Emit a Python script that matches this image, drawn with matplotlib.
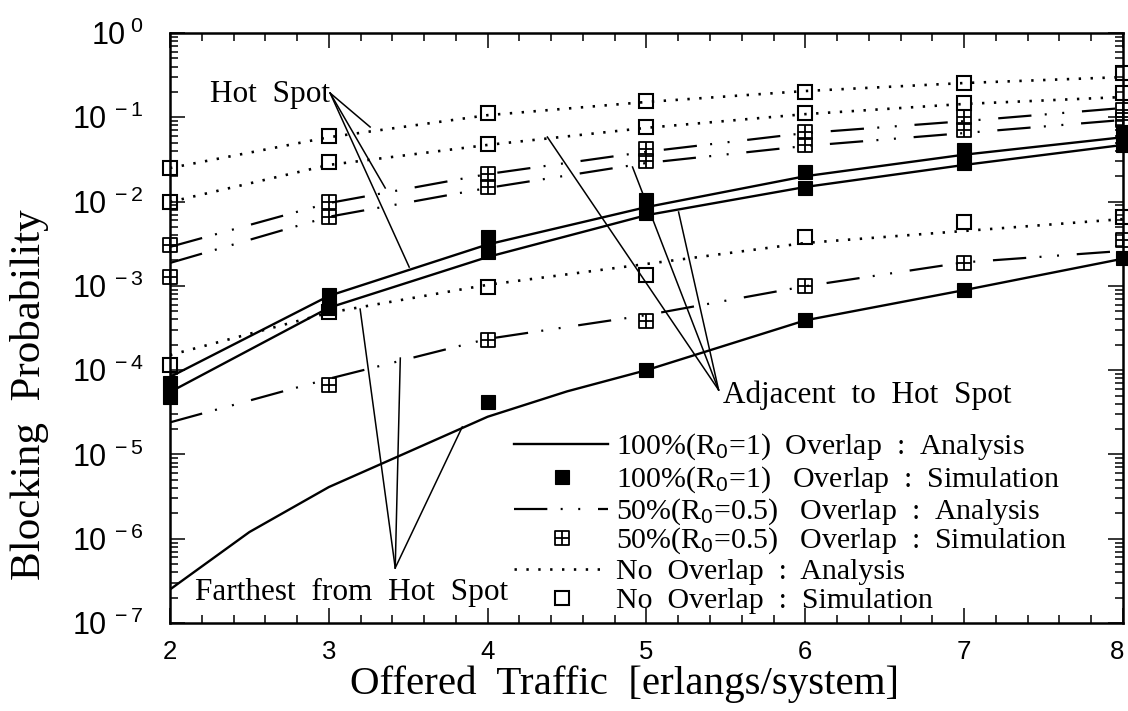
import numpy as np
import matplotlib
matplotlib.use("Agg")
import matplotlib.pyplot as plt
import matplotlib.transforms as mtransforms
from matplotlib.path import Path
from matplotlib.ticker import FixedLocator, NullFormatter, FuncFormatter

# ---------------------------------------------------------------- data
traffic = [2, 3, 4, 5, 6, 7, 8]
decades = [-7, -6, -5, -4, -3, -2, -1, 0]

# hot spot cell
hot_full_ana = [8.3e-5, 7.6e-4, 3.1e-3, 8.6e-3, 2.0e-2, 3.6e-2, 5.8e-2]
hot_full_sim = [7.0e-5, 7.8e-4, 3.8e-3, 1.04e-2, 2.25e-2, 4.1e-2, 6.7e-2]
hot_half_ana = [2.9e-3, 9.6e-3, 2.12e-2, 3.9e-2, 6.5e-2, 9.0e-2, 1.29e-1]
hot_half_sim = [3.06e-3, 9.9e-3, 2.12e-2, 4.2e-2, 6.7e-2, 1.01e-1, 1.22e-1]
hot_none_ana = [2.5e-2, 5.8e-2, 1.06e-1, 1.52e-1, 2.05e-1, 2.55e-1, 3.0e-1]
hot_none_sim = [2.5e-2, 6.0e-2, 1.12e-1, 1.56e-1, 2.0e-1, 2.55e-1, 3.36e-1]

# cells adjacent to the hot spot
adj_full_ana = [5.5e-5, 5.5e-4, 2.2e-3, 6.9e-3, 1.49e-2, 2.72e-2, 4.7e-2]
adj_full_sim = [4.8e-5, 5.5e-4, 2.5e-3, 7.3e-3, 1.45e-2, 2.87e-2, 4.7e-2]
adj_half_ana = [1.87e-3, 6.6e-3, 1.45e-2, 2.87e-2, 4.57e-2, 6.5e-2, 9.3e-2]
adj_half_sim = [1.28e-3, 6.6e-3, 1.49e-2, 3.03e-2, 4.7e-2, 7.1e-2, 9.3e-2]
adj_none_ana = [9.9e-3, 2.72e-2, 4.7e-2, 7.5e-2, 1.09e-1, 1.44e-1, 1.74e-1]
adj_none_sim = [9.9e-3, 2.95e-2, 4.8e-2, 7.7e-2, 1.12e-1, 1.48e-1, 1.94e-1]

# cells farthest from the hot spot
far_traffic_fine = [2, 2.5, 3, 3.5, 4, 4.5, 5, 6, 7, 8]
far_full_ana = [2.5e-7, 1.2e-6, 4.1e-6, 1.07e-5, 2.8e-5, 5.6e-5, 1.0e-4, 3.9e-4, 8.9e-4, 2.1e-3]
far_full_sim_traffic = [4, 5, 6, 7, 8]
far_full_sim = [4.2e-5, 1.0e-4, 3.94e-4, 8.9e-4, 2.14e-3]
far_half_ana = [2.4e-5, 7.9e-5, 2.35e-4, 4.5e-4, 9.9e-4, 1.9e-3, 2.6e-3]
far_half_sim_traffic = [3, 4, 5, 6, 7, 8]
far_half_sim = [6.7e-5, 2.28e-4, 3.84e-4, 9.9e-4, 1.87e-3, 3.5e-3]
far_none_ana = [1.51e-4, 4.8e-4, 1.03e-3, 1.82e-3, 3.23e-3, 4.48e-3, 6.2e-3]
far_none_sim = [1.15e-4, 4.9e-4, 9.7e-4, 1.35e-3, 3.8e-3, 5.7e-3, 6.6e-3]

legend_labels = [
    r"100%(R$_0$=1)  Overlap  :  Analysis",
    r"100%(R$_0$=1)   Overlap  :  Simulation",
    r"50%(R$_0$=0.5)   Overlap  :  Analysis",
    r"50%(R$_0$=0.5)   Overlap  :  Simulation",
    r"No  Overlap  :  Analysis",
    r"No  Overlap  :  Simulation",
]

# ---------------------------------------------------------------- style
plt.rcParams["mathtext.fontset"] = "custom"
plt.rcParams["mathtext.rm"] = "Liberation Sans"
plt.rcParams["mathtext.it"] = "Liberation Sans:italic"
plt.rcParams["mathtext.bf"] = "Liberation Sans:bold"
SERIF = ["Liberation Serif", "DejaVu Serif"]
SANS = ["Liberation Sans", "DejaVu Sans"]

W, H = 1128, 711
fig = plt.figure(figsize=(W / 100, H / 100), dpi=100)
ax = fig.add_axes([170 / W, 1 - 623 / H, (1123 - 170) / W, (623 - 33) / H])

LW = 1.7
solid = dict(color="black", lw=LW, linestyle="-")
dashdot = dict(color="black", lw=1.6, linestyle=(0, (15, 6, 0.9, 7, 0.9, 8)))
dotted = dict(color="black", lw=1.9, linestyle=(0, (0.9, 3.6)))

# square with a cross inside
box_cross = Path(
    [(-1, -1), (1, -1), (1, 1), (-1, 1), (-1, -1), (0, -1), (0, 1), (-1, 0), (1, 0)],
    [Path.MOVETO, Path.LINETO, Path.LINETO, Path.LINETO, Path.CLOSEPOLY,
     Path.MOVETO, Path.LINETO, Path.MOVETO, Path.LINETO],
)
mk_full = dict(marker="s", ms=10.5, mfc="black", mec="black", mew=0.8, linestyle="none",
               clip_on=False, zorder=5)
mk_half = dict(marker=box_cross, ms=10.5, mfc="none", mec="black", mew=1.3, linestyle="none",
               clip_on=False, zorder=5)
mk_none = dict(marker="s", ms=10.5, mfc="none", mec="black", mew=1.5, linestyle="none",
               clip_on=False, zorder=5)

# analysis curves
for y in (hot_full_ana, adj_full_ana):
    ax.plot(traffic, y, **solid)
ax.plot(far_traffic_fine, far_full_ana, **solid)
for y in (hot_half_ana, adj_half_ana, far_half_ana):
    ax.plot(traffic, y, **dashdot)
for y in (hot_none_ana, adj_none_ana, far_none_ana):
    ax.plot(traffic, y, **dotted)

# simulation points
for y in (hot_full_sim, adj_full_sim):
    ax.plot(traffic, y, **mk_full)
ax.plot(far_full_sim_traffic, far_full_sim, **mk_full)
for y in (hot_half_sim, adj_half_sim):
    ax.plot(traffic, y, **mk_half)
ax.plot(far_half_sim_traffic, far_half_sim, **mk_half)
for y in (hot_none_sim, adj_none_sim, far_none_sim):
    ax.plot(traffic, y, **mk_none)

# ---------------------------------------------------------------- axes
ax.set_yscale("log")
ax.set_xlim(2, 8)
ax.set_ylim(10.0 ** decades[0], 10.0 ** decades[-1])
ax.xaxis.set_major_locator(FixedLocator(traffic))
ax.xaxis.set_minor_locator(FixedLocator(np.arange(2, 8.01, 0.2)))
ax.xaxis.set_minor_formatter(NullFormatter())
ax.yaxis.set_major_locator(FixedLocator([10.0 ** d for d in decades]))
ax.yaxis.set_minor_locator(
    FixedLocator([m * 10.0 ** d for d in decades[:-1] for m in range(2, 10)]))
ax.yaxis.set_minor_formatter(NullFormatter())
ax.yaxis.set_major_formatter(
    FuncFormatter(lambda v, p: r"10$^{\;%d}$" % int(round(np.log10(v)))))
ax.tick_params(which="both", direction="in", top=True, right=True, width=1.1, color="black")
ax.tick_params(which="major", length=11)
ax.tick_params(which="minor", length=5.5)
ax.tick_params(axis="y", which="major", pad=19, labelsize=22)
ax.tick_params(axis="x", which="major", pad=12, labelsize=18.5)
for lab in ax.get_yticklabels() + ax.get_xticklabels():
    lab.set_family(SANS)
for s in ax.spines.values():
    s.set_linewidth(1.8)

# keep the last traffic label inside the figure edge
shift = mtransforms.ScaledTranslation(-6 / 100, 0, fig.dpi_scale_trans)
last = ax.get_xticklabels()[-1]
last.set_transform(last.get_transform() + shift)

def px(x, y):
    return x / W, 1 - y / H

fig.text(*px(30, 395), "Blocking  Probability", rotation=90, ha="center", va="center",
         fontsize=31, family=SERIF)
fig.text(*px(625, 684), "Offered  Traffic  [erlangs/system]", ha="center", va="center",
         fontsize=29.5, family=SERIF)

# ---------------------------------------------------------------- region labels
lead = dict(color="black", lw=1.1, clip_on=False, zorder=4)
ax.text(2.252, 0.184, "Hot  Spot", ha="left", va="center", fontsize=22.5, family=SERIF)
for xe, ye in [(3.26, 0.0767), (3.355, 0.0145), (3.506, 1.67e-3)]:
    ax.plot([3.008, xe], [0.194, ye], **lead)

ax.text(5.479, 5.07e-5, "Adjacent  to  Hot  Spot", ha="left", va="center", fontsize=22.5,
        family=SERIF)
for xe, ye in [(4.376, 0.0583), (4.912, 0.0257), (5.202, 7.52e-3)]:
    ax.plot([5.454, xe], [5.82e-5, ye], **lead)

ax.text(2.158, 2.3e-7, "Farthest  from  Hot  Spot", ha="left", va="center", fontsize=22.5,
        family=SERIF)
for xe, ye in [(3.197, 5.3e-4), (3.45, 1.39e-4), (3.84, 2.12e-5)]:
    ax.plot([3.418, xe], [4.5e-7, ye], **lead)

# ---------------------------------------------------------------- key
rows_y = [444, 477, 509, 538, 569, 598]
line_x0, line_x1, mark_x, text_x = 514, 608, 562, 616
samples = [("line", solid), ("mark", mk_full), ("line", dashdot),
           ("mark", mk_half), ("line", dotted), ("mark", mk_none)]
for (kind, st), ry, lab in zip(samples, rows_y, legend_labels):
    if kind == "line":
        xs = [line_x0 / W, line_x1 / W]
        ys = [1 - ry / H] * 2
        fig.add_artist(plt.Line2D(xs, ys, transform=fig.transFigure, **st))
    else:
        st2 = {k: v for k, v in st.items() if k not in ("linestyle", "clip_on")}
        fig.add_artist(plt.Line2D([mark_x / W], [1 - ry / H], transform=fig.transFigure,
                                  linestyle="none", **st2))
    fig.text(text_x / W, 1 - (ry + 3) / H, lab, ha="left", va="center", fontsize=21.5,
             family=SERIF)

fig.savefig("out.png", dpi=100)
